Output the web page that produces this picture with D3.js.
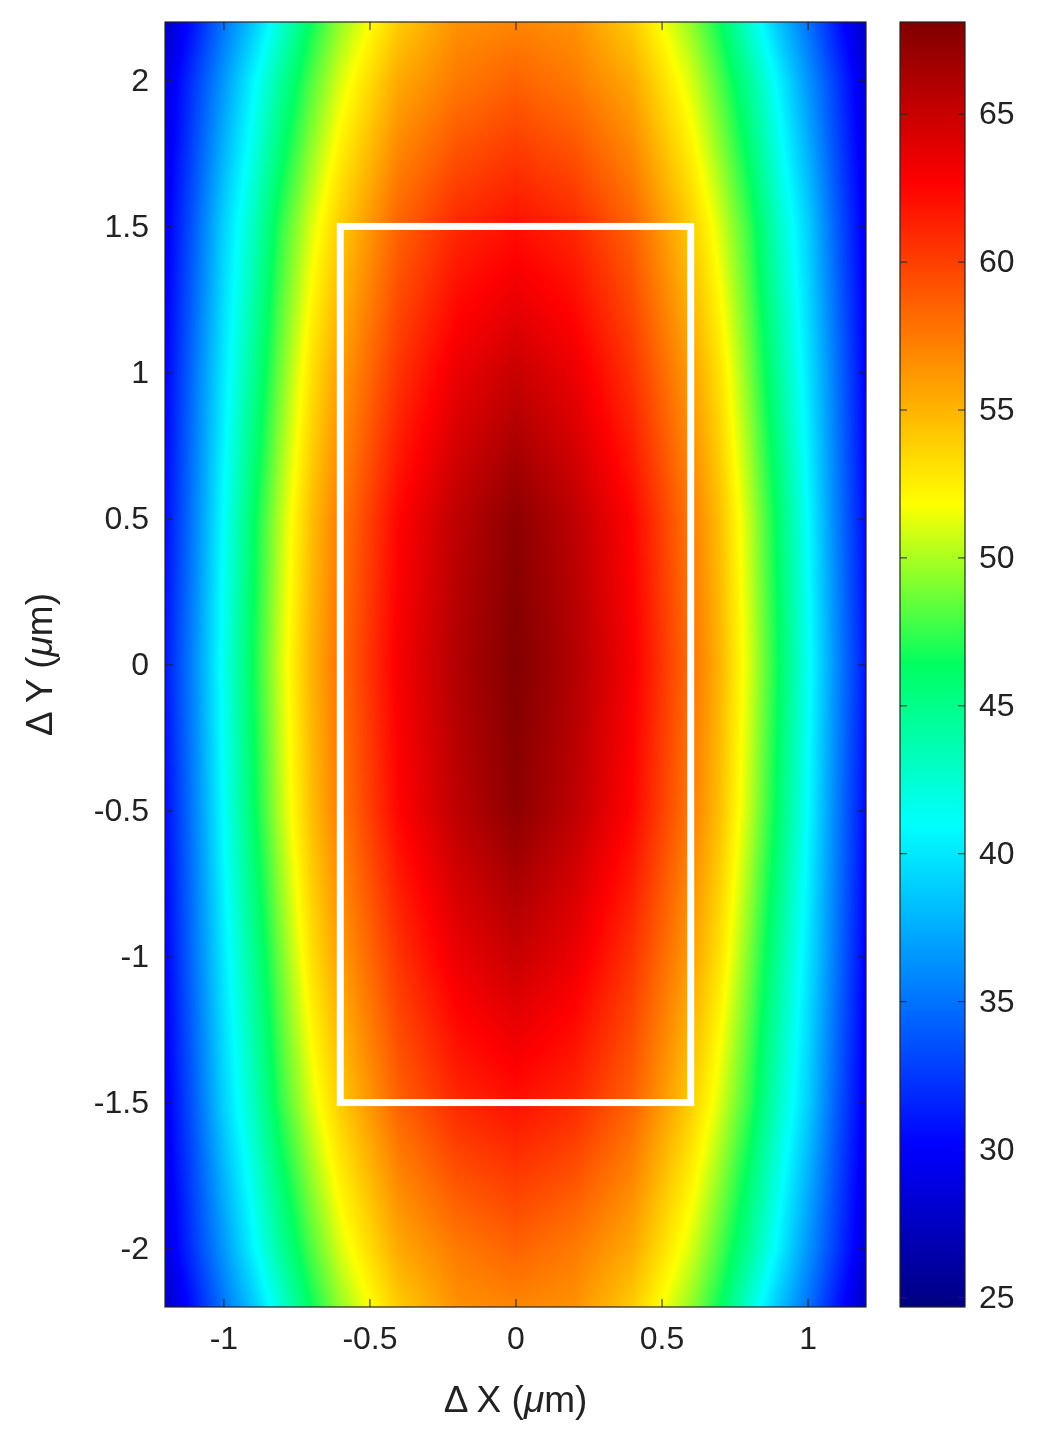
<!DOCTYPE html>
<html><head><meta charset="utf-8">
<script src="https://cdn.jsdelivr.net/npm/d3@7"></script>
<style>body{margin:0;background:#fff;}#wrap{position:relative;width:1049px;height:1439px;}canvas,svg{position:absolute;left:0;top:0;}</style>
</head><body><div id="wrap"><canvas id="c" width="1049" height="1439"></canvas><svg id="s" width="1049" height="1439"></svg></div>
<script>
// Grid of estimated values (µm): symmetric in x and y
const xs = [0, 0.2, 0.4, 0.6, 0.7, 0.8, 0.9, 1.0, 1.1, 1.2];
const ys = [0, 0.5, 1.0, 1.5, 2.0, 2.2];
const row0  = [68, 66, 63, 58, 55, 51, 46.5, 41.5, 36, 31];
const row05 = [67.5, 65.5, 62.5, 57.5, 54.5, 50.5, 46, 41, 35.5, 30.5];
const row10 = [65, 63.5, 60.5, 56, 53, 49, 44.5, 40, 35, 30];
const row15 = [62, 61, 58.5, 54, 51, 47.5, 43, 39, 34, 29.5];
const row20 = [58.5, 57.5, 55.5, 51, 48, 44.5, 40.5, 36.5, 32.5, 28.5];
const row22 = [57, 56.5, 54, 49.5, 46.5, 42.5, 38.5, 35, 31, 27.5];
const grid = [row0, row05, row10, row15, row20, row22];
const xTicks = [-1, -0.5, 0, 0.5, 1];
const yTicks = [-2, -1.5, -1, -0.5, 0, 0.5, 1, 1.5, 2];
const cTicks = [25, 30, 35, 40, 45, 50, 55, 60, 65];
const cDomain = [24.66, 68.1];
const box = {x0: -0.6, x1: 0.6, y0: -1.5, y1: 1.5};

const L = 165, R = 866, T = 22, B = 1307;
const x = d3.scaleLinear().domain([-1.2, 1.2]).range([L, R]);
const y = d3.scaleLinear().domain([-2.2, 2.2]).range([B, T]);
const cy = d3.scaleLinear().domain(cDomain).range([B, T]);
const jet = d3.scaleLinear().domain([0, 0.125, 0.375, 0.5, 0.625, 0.875, 1])
  .range(["#000080", "#0000ff", "#00ffff", "#00ff60", "#ffff00", "#ff0000", "#800000"]).clamp(true);
const norm = v => (v - cDomain[0]) / (cDomain[1] - cDomain[0]);

function idx(arr, v) { let i = 0; while (i < arr.length - 2 && v > arr[i + 1]) i++; return [i, Math.min(1, (v - arr[i]) / (arr[i + 1] - arr[i]))]; }
function val(px, py) {
  const ax = Math.abs(px), ay = Math.abs(py);
  const [i, tx] = idx(xs, ax), [j, ty] = idx(ys, ay);
  const a = grid[j][i] * (1 - tx) + grid[j][i + 1] * tx;
  const b = grid[j + 1][i] * (1 - tx) + grid[j + 1][i + 1] * tx;
  return a * (1 - ty) + b * ty;
}
const ctx = document.getElementById("c").getContext("2d");
const img = ctx.createImageData(R - L, B - T);
for (let r = 0; r < B - T; r++) for (let c = 0; c < R - L; c++) {
  const col = d3.rgb(jet(norm(val(x.invert(L + c + 0.5), y.invert(T + r + 0.5)))));
  const k = (r * (R - L) + c) * 4;
  img.data[k] = col.r; img.data[k + 1] = col.g; img.data[k + 2] = col.b; img.data[k + 3] = 255;
}
ctx.putImageData(img, L, T);
const CL = 900, CR = 965;
for (let r = T; r < B; r++) { ctx.fillStyle = jet(norm(cy.invert(r + 0.5))); ctx.fillRect(CL, r, CR - CL, 1); }

const svg = d3.select("#s");
const font = "Liberation Sans, Arial, sans-serif";
const fmt = d => String(d);
svg.append("rect").attr("x", x(box.x0)).attr("y", y(box.y1)).attr("width", x(box.x1) - x(box.x0))
  .attr("height", y(box.y0) - y(box.y1)).attr("fill", "none").attr("stroke", "#fff").attr("stroke-width", 7);
const gx = svg.append("g").attr("transform", `translate(0,${B})`).call(d3.axisBottom(x).tickValues(xTicks).tickSizeInner(-8).tickSizeOuter(0).tickPadding(16).tickFormat(fmt));
const gx2 = svg.append("g").attr("transform", `translate(0,${T})`).call(d3.axisTop(x).tickValues(xTicks).tickSizeInner(-8).tickSizeOuter(0).tickFormat(""));
const gy = svg.append("g").attr("transform", `translate(${L},0)`).call(d3.axisLeft(y).tickValues(yTicks).tickSizeInner(-8).tickSizeOuter(0).tickPadding(16).tickFormat(fmt));
const gy2 = svg.append("g").attr("transform", `translate(${R},0)`).call(d3.axisRight(y).tickValues(yTicks).tickSizeInner(-8).tickSizeOuter(0).tickFormat(""));
const gc = svg.append("g").attr("transform", `translate(${CR},0)`).call(d3.axisRight(cy).tickValues(cTicks).tickSizeInner(-7).tickSizeOuter(0).tickPadding(14).tickFormat(fmt));
const gc2 = svg.append("g").attr("transform", `translate(${CL},0)`).call(d3.axisLeft(cy).tickValues(cTicks).tickSizeInner(-7).tickSizeOuter(0).tickFormat(""));
[gx, gx2, gy, gy2, gc, gc2].forEach(g => { g.selectAll("text").attr("font-family", font).attr("font-size", 32).attr("fill", "#222"); g.selectAll("line").attr("stroke", "#222"); g.select(".domain").remove(); });
gx.selectAll("text").attr("dy", "0.8em");
svg.append("rect").attr("x", L).attr("y", T).attr("width", R - L).attr("height", B - T).attr("fill", "none").attr("stroke", "#222").attr("stroke-width", 1.2);
svg.append("rect").attr("x", CL).attr("y", T).attr("width", CR - CL).attr("height", B - T).attr("fill", "none").attr("stroke", "#222").attr("stroke-width", 1.2);
const xl = svg.append("text").attr("x", x(0)).attr("y", 1412).attr("text-anchor", "middle").attr("font-family", font).attr("font-size", 37).attr("fill", "#222");
xl.append("tspan").text("Δ X ("); xl.append("tspan").attr("font-style", "italic").text("μ"); xl.append("tspan").text("m)");
const yl = svg.append("text").attr("transform", `translate(52,${y(0)}) rotate(-90)`).attr("text-anchor", "middle").attr("font-family", font).attr("font-size", 37).attr("fill", "#222");
yl.append("tspan").text("Δ Y ("); yl.append("tspan").attr("font-style", "italic").text("μ"); yl.append("tspan").text("m)");
</script></body></html>
